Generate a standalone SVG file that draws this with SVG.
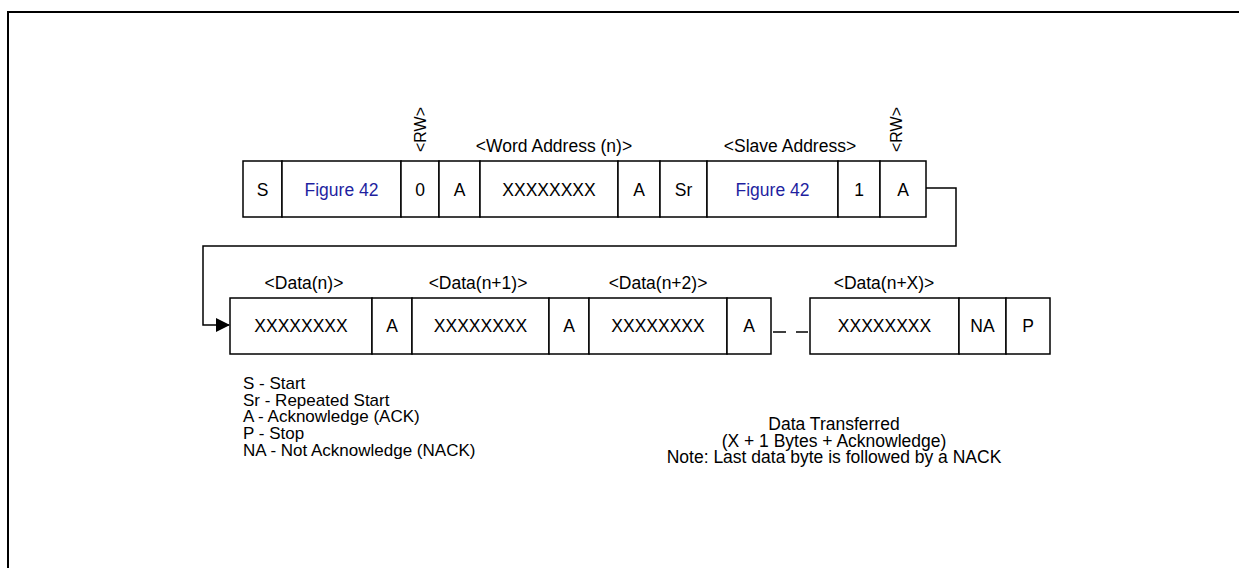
<svg xmlns="http://www.w3.org/2000/svg" width="1239" height="568" viewBox="0 0 1239 568">
<style>
.t{font-family:"Liberation Sans",Arial,sans-serif;font-size:17.5px;fill:#000}
.lg{font-size:17px}
.rw{font-size:16px}
.c{text-anchor:middle}
.fig{fill:#1f1f9f}
.b{fill:#fff;stroke:#000;stroke-width:1.5}
.ln{fill:none;stroke:#000;stroke-width:1.5}
</style>
<defs>
<marker id="arr" markerWidth="14" markerHeight="14" refX="13" refY="7" orient="auto" markerUnits="userSpaceOnUse">
<path d="M0,0 L14,7 L0,14 Z" fill="#000"/>
</marker>
</defs>
<rect width="1239" height="568" fill="#fff"/>
<path d="M8,568 V12 H1239" fill="none" stroke="#000" stroke-width="2"/>

<g id="connectors">
<path class="ln" d="M926,188 H956 V246 H203 V325 H229" marker-end="url(#arr)"/>
<path class="ln" d="M773,332 H786 M796,332 H808"/>
</g>

<g id="row1">
<g id="n-s"><rect class="b" x="243" y="161" width="39" height="56"/><text class="t c" x="262.5" y="195.5">S</text></g>
<g id="n-fig1"><rect class="b" x="282" y="161" width="119" height="56"/><text class="t c fig" x="341.5" y="195.5">Figure 42</text></g>
<g id="n-0"><rect class="b" x="401" y="161" width="38" height="56"/><text class="t c" x="420" y="195.5">0</text></g>
<g id="n-a1"><rect class="b" x="439" y="161" width="41" height="56"/><text class="t c" x="459.5" y="195.5">A</text></g>
<g id="n-word"><rect class="b" x="480" y="161" width="138" height="56"/><text class="t c" x="549" y="195.5">XXXXXXXX</text></g>
<g id="n-a2"><rect class="b" x="618" y="161" width="42" height="56"/><text class="t c" x="639" y="195.5">A</text></g>
<g id="n-sr"><rect class="b" x="660" y="161" width="47" height="56"/><text class="t c" x="683.5" y="195.5">Sr</text></g>
<g id="n-fig2"><rect class="b" x="707" y="161" width="131" height="56"/><text class="t c fig" x="772.5" y="195.5">Figure 42</text></g>
<g id="n-1"><rect class="b" x="838" y="161" width="42" height="56"/><text class="t c" x="859" y="195.5">1</text></g>
<g id="n-a3"><rect class="b" x="880" y="161" width="46" height="56"/><text class="t c" x="903" y="195.5">A</text></g>
<text class="t rw" transform="translate(426,152) rotate(-90)">&lt;RW&gt;</text>
<text class="t c" x="554" y="152">&lt;Word Address (n)&gt;</text>
<text class="t c" x="790" y="152">&lt;Slave Address&gt;</text>
<text class="t rw" transform="translate(902,152) rotate(-90)">&lt;RW&gt;</text>
</g>

<g id="row2">
<g id="d-n"><rect class="b" x="230" y="298" width="142" height="56"/><text class="t c" x="301" y="331.5">XXXXXXXX</text></g>
<g id="d-a1"><rect class="b" x="372" y="298" width="40" height="56"/><text class="t c" x="392" y="331.5">A</text></g>
<g id="d-n1"><rect class="b" x="412" y="298" width="137" height="56"/><text class="t c" x="480.5" y="331.5">XXXXXXXX</text></g>
<g id="d-a2"><rect class="b" x="549" y="298" width="40" height="56"/><text class="t c" x="569" y="331.5">A</text></g>
<g id="d-n2"><rect class="b" x="589" y="298" width="138" height="56"/><text class="t c" x="658" y="331.5">XXXXXXXX</text></g>
<g id="d-a3"><rect class="b" x="727" y="298" width="44" height="56"/><text class="t c" x="749" y="331.5">A</text></g>
<g id="d-nx"><rect class="b" x="810" y="298" width="149" height="56"/><text class="t c" x="884.5" y="331.5">XXXXXXXX</text></g>
<g id="d-na"><rect class="b" x="959" y="298" width="47" height="56"/><text class="t c" x="982.5" y="331.5">NA</text></g>
<g id="d-p"><rect class="b" x="1006" y="298" width="44" height="56"/><text class="t c" x="1028" y="331.5">P</text></g>
<text class="t c" x="304" y="289">&lt;Data(n)&gt;</text>
<text class="t c" x="478" y="289">&lt;Data(n+1)&gt;</text>
<text class="t c" x="658" y="289">&lt;Data(n+2)&gt;</text>
<text class="t c" x="884" y="289">&lt;Data(n+X)&gt;</text>
</g>

<g id="legend">
<text class="t lg" x="243" y="389">S - Start</text>
<text class="t lg" x="243" y="406">Sr - Repeated Start</text>
<text class="t lg" x="243" y="422">A - Acknowledge (ACK)</text>
<text class="t lg" x="243" y="439">P - Stop</text>
<text class="t lg" x="243" y="456">NA - Not Acknowledge (NACK)</text>
</g>

<g id="note">
<text class="t c" x="834" y="430">Data Transferred</text>
<text class="t c" x="834" y="447">(X + 1 Bytes + Acknowledge)</text>
<text class="t c" x="834" y="463">Note: Last data byte is followed by a NACK</text>
</g>
</svg>
